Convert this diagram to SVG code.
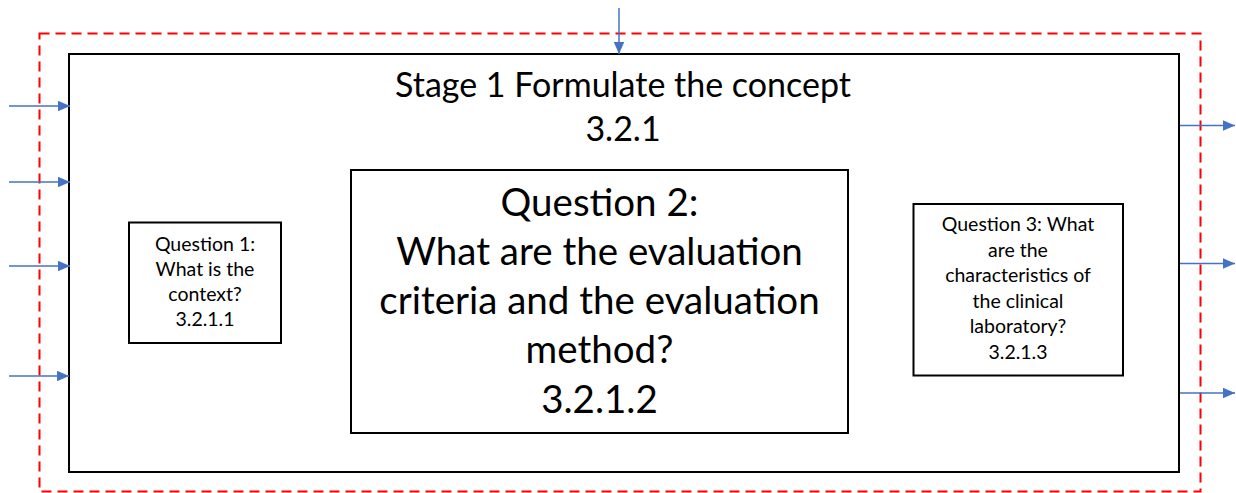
<svg xmlns="http://www.w3.org/2000/svg" width="1236" height="493" viewBox="0 0 1236 493">
<style>
.box{fill:#fff;stroke:#000;stroke-width:2}
.conn{stroke:#4472C4;stroke-width:1.5;fill:none;marker-end:url(#ah)}
text{font-family:Lato,"Noto Sans",sans-serif;fill:#000;text-anchor:middle}
.t1{font-size:34px}
.t2{font-size:38.5px}
.t3{font-size:19.5px}
</style>
<defs>
<marker id="ah" markerWidth="8" markerHeight="7" refX="8" refY="3.5" orient="auto" markerUnits="strokeWidth">
<path d="M0,0 L8,3.5 L0,7 Z" fill="#4472C4"/>
</marker>
</defs>
<rect x="0" y="0" width="1236" height="493" fill="#fff"/>
<g id="boundary">
<rect x="39.5" y="33.5" width="1161" height="458" fill="none" stroke="#FF0000" stroke-width="2" stroke-dasharray="10,6"/>
</g>
<g id="stage1">
<rect class="box" x="69" y="54" width="1110" height="418"/>
<text class="t1" x="623" y="97">Stage 1 Formulate the concept</text>
<text class="t1" x="623" y="141">3.2.1</text>
</g>
<g id="q1">
<rect class="box" x="129" y="222.5" width="152" height="120.5"/>
<text class="t3"><tspan x="205" y="251">Question 1:</tspan><tspan x="205" y="276">What is the</tspan><tspan x="205" y="301">context?</tspan><tspan x="205" y="326">3.2.1.1</tspan></text>
</g>
<g id="q2">
<rect class="box" x="351" y="170" width="497" height="263"/>
<text class="t2"><tspan x="599.5" y="216">Question 2:</tspan><tspan x="599.5" y="265">What are the evaluation</tspan><tspan x="599.5" y="314">criteria and the evaluation</tspan><tspan x="599.5" y="363">method?</tspan><tspan x="599.5" y="413">3.2.1.2</tspan></text>
</g>
<g id="q3">
<rect class="box" x="913.5" y="204" width="209.5" height="171.5"/>
<text class="t3"><tspan x="1018" y="231">Question 3: What</tspan><tspan x="1018" y="257">are the</tspan><tspan x="1018" y="282">characteristics of</tspan><tspan x="1018" y="308">the clinical</tspan><tspan x="1018" y="333">laboratory?</tspan><tspan x="1018" y="359">3.2.1.3</tspan></text>
</g>
<g id="connectors">
<line class="conn" x1="9" y1="106" x2="70" y2="106"/>
<line class="conn" x1="9" y1="182" x2="70" y2="182"/>
<line class="conn" x1="9" y1="266" x2="70" y2="266"/>
<line class="conn" x1="9" y1="376" x2="69" y2="376"/>
<line class="conn" x1="619" y1="8" x2="619" y2="54"/>
<line class="conn" x1="1180" y1="125.5" x2="1235" y2="125.5"/>
<line class="conn" x1="1180" y1="263.5" x2="1235" y2="263.5"/>
<line class="conn" x1="1180" y1="393" x2="1235" y2="393"/>
</g>
</svg>
